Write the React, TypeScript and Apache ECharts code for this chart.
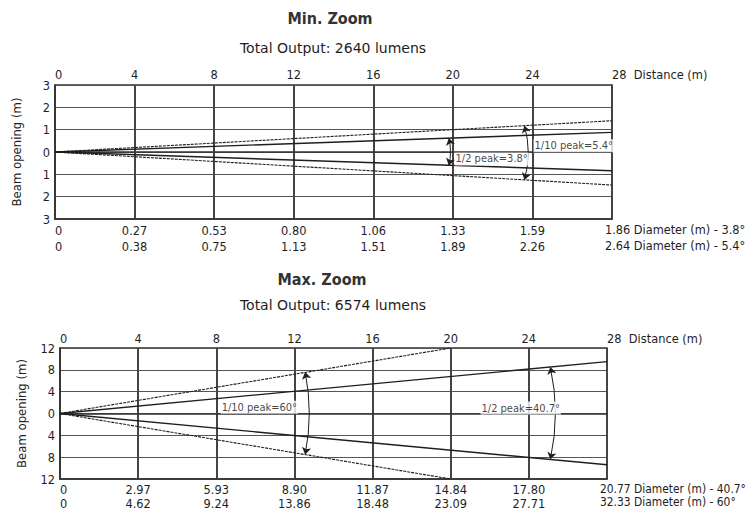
import React, { useEffect, useRef } from "react";
import * as echarts from "echarts";

// ---- data ----
const distances = [0, 4, 8, 12, 16, 20, 24, 28];
const minHalfDiam = [0, 0.27, 0.53, 0.8, 1.06, 1.33, 1.59, 1.86];
const minTenthDiam = [0, 0.38, 0.75, 1.13, 1.51, 1.89, 2.26, 2.64];
const maxHalfDiam = [0, 2.97, 5.93, 8.9, 11.87, 14.84, 17.8, 20.77];
const maxTenthDiam = [0, 4.62, 9.24, 13.86, 18.48, 23.09, 27.71, 32.33];

// beam edges as drawn (distance, half opening)
const minEdgeX = [0, 28];
const minHalfUpper = [0, 0.88];
const minHalfLower = [0, -0.84];
const minTenthUpper = [0, 1.4];
const minTenthLower = [0, -1.48];
const maxHalfX = [0, 28];
const maxHalfUpper = [0, 9.5];
const maxHalfLower = [0, -9.4];
const maxTenthX = [0, 20];
const maxTenthUpper = [0, 12];
const maxTenthLower = [0, -12];

const FONT = "'DejaVu Sans Condensed', 'DejaVu Sans', sans-serif";
const WIDE = "'DejaVu Sans', sans-serif";
const INK = "#1e1e1e";
const TICK_SIZE = 12.7;

const fmt = (n: number) => (n === 0 ? "0" : n.toFixed(2));
const zip = (xs: number[], ys: number[]) => xs.map((x, i) => [x, ys[i]]);
const last = distances.length - 1;

function diamFormatter(a: number[], b: number[]) {
  return (v: number) => {
    const i = distances.indexOf(v);
    if (i < 0 || i === last) return "";
    return `${fmt(a[i])}\n${fmt(b[i])}`;
  };
}

function edge(xIdx: number, yIdx: number, data: number[][], dashed: boolean) {
  return {
    type: "line",
    xAxisIndex: xIdx,
    yAxisIndex: yIdx,
    data,
    symbol: "none",
    silent: true,
    z: 5,
    lineStyle: { color: INK, width: dashed ? 1.1 : 1.4, type: dashed ? [3, 1] : "solid" },
  };
}

function arcs(xIdx: number, yIdx: number, items: { x: number; y1: number; y2: number; c: number }[]) {
  return {
    type: "lines",
    coordinateSystem: "cartesian2d",
    xAxisIndex: xIdx,
    yAxisIndex: yIdx,
    silent: true,
    z: 6,
    symbol: ["arrow", "arrow"],
    symbolSize: 7,
    lineStyle: { color: INK, width: 1, opacity: 1 },
    data: items.map((it) => ({
      coords: [
        [it.x, it.y1],
        [it.x, it.y2],
      ],
      lineStyle: { curveness: it.c },
    })),
  };
}

function labels(xIdx: number, yIdx: number, items: { name: string; x: number; y: number }[]) {
  return {
    type: "scatter",
    xAxisIndex: xIdx,
    yAxisIndex: yIdx,
    silent: true,
    z: 20,
    symbolSize: 1,
    itemStyle: { color: "transparent" },
    label: {
      show: true,
      position: "right",
      distance: 0,
      formatter: (p: any) => p.name,
      color: "#111",
      fontSize: 11,
      fontFamily: FONT,
      backgroundColor: "#fff",
      padding: [1, 1],
    },
    data: items.map((it) => ({ name: it.name, value: [it.x, it.y] })),
  };
}

function distAxis(grid: number, margin: number) {
  return {
    type: "value",
    gridIndex: grid,
    position: "top",
    min: 0,
    max: 28,
    interval: 4,
    axisLine: { show: true, lineStyle: { color: "#333", width: 1.5 } },
    axisTick: { show: false },
    splitLine: { show: true, lineStyle: { color: "#444", width: 2 } },
    axisLabel: {
      margin,
      color: INK,
      fontSize: TICK_SIZE,
      fontFamily: FONT,
      alignMinLabel: "left",
      alignMaxLabel: "left",
      formatter: (v: number) => (v === 28 ? "28  Distance (m)" : String(v)),
    },
  };
}

function diamAxis(grid: number, fmtr: any, lh: number, margin: number) {
  return {
    type: "value",
    gridIndex: grid,
    position: "bottom",
    min: 0,
    max: 28,
    interval: 4,
    axisLine: { show: true, lineStyle: { color: "#333", width: 1.5 } },
    axisTick: { show: false },
    splitLine: { show: false },
    axisLabel: {
      margin,
      color: INK,
      fontSize: TICK_SIZE,
      lineHeight: lh,
      fontFamily: FONT,
      alignMinLabel: "left",
      formatter: fmtr,
    },
  };
}

function openAxis(grid: number, lim: number, step: number) {
  return {
    type: "value",
    gridIndex: grid,
    min: -lim,
    max: lim,
    interval: step,
    name: "Beam opening (m)",
    nameLocation: "middle",
    nameRotate: 90,
    nameGap: 32,
    nameTextStyle: { color: INK, fontSize: 13, fontFamily: FONT },
    axisLine: { show: true, lineStyle: { color: "#333", width: 1.5 } },
    axisTick: { show: false },
    splitLine: { show: true, lineStyle: { color: "#555", width: 1 } },
    axisLabel: {
      margin: 5,
      color: INK,
      fontSize: TICK_SIZE,
      fontFamily: FONT,
      formatter: (v: number) => String(Math.abs(v)),
    },
  };
}

function title(text: string, x: number, y: number, size: number, bold: boolean) {
  return {
    type: "text",
    x,
    y,
    silent: true,
    style: {
      text,
      align: "center",
      verticalAlign: "middle",
      textAlign: "center",
      textVerticalAlign: "middle",
      fill: bold ? "#333" : INK,
      font: bold ? `bold ${size}px ${FONT}` : `${size}px ${WIDE}`,
    },
  };
}

function endLabel(a: number[], b: number[], angA: string, angB: string, x: number, y: number, lh: number, size: number) {
  return {
    type: "text",
    x,
    y,
    silent: true,
    style: {
      text: `${fmt(a[last])} Diameter (m) - ${angA}\n${fmt(b[last])} Diameter (m) - ${angB}`,
      align: "left",
      verticalAlign: "top",
      textAlign: "left",
      textVerticalAlign: "top",
      lineHeight: lh,
      fill: INK,
      font: `${size}px ${FONT}`,
    },
  };
}

const gridBase = {
  show: true,
  borderColor: "#333",
  borderWidth: 1.5,
  backgroundColor: "transparent",
  containLabel: false,
  outerBoundsMode: "none",
};

export default function App() {
  const ref = useRef<HTMLDivElement>(null);
  useEffect(() => {
    if (!ref.current) return;
    const chart = echarts.init(ref.current, undefined, { renderer: "svg" });
    chart.setOption({
      animation: false,
      backgroundColor: "#fff",
      graphic: [
        title("Min. Zoom", 330, 18, 16, true),
        title("Total Output: 2640 lumens", 333, 48, 14, false),
        title("Max. Zoom", 322, 279, 16, true),
        title("Total Output: 6574 lumens", 333, 305, 14, false),
        endLabel(minHalfDiam, minTenthDiam, "3.8°", "5.4°", 605, 221, 16, 12.6),
        endLabel(maxHalfDiam, maxTenthDiam, "40.7°", "60°", 600, 482, 13, 11.9),
      ],
      grid: [
        { ...gridBase, left: 55, top: 85, width: 557, height: 134 },
        { ...gridBase, left: 60, top: 348, width: 547, height: 131 },
      ],
      xAxis: [
        distAxis(0, 4),
        diamAxis(0, diamFormatter(minHalfDiam, minTenthDiam), 16, 3),
        distAxis(1, 3),
        diamAxis(1, diamFormatter(maxHalfDiam, maxTenthDiam), 14, 3),
      ],
      yAxis: [openAxis(0, 3, 1), openAxis(1, 12, 4)],
      series: [
        edge(0, 0, zip(minEdgeX, minHalfUpper), false),
        edge(0, 0, zip(minEdgeX, minHalfLower), false),
        edge(0, 0, zip(minEdgeX, minTenthUpper), true),
        edge(0, 0, zip(minEdgeX, minTenthLower), true),
        arcs(0, 0, [
          { x: 19.8, y1: 0.62, y2: -0.6, c: 0.12 },
          { x: 23.6, y1: 1.18, y2: -1.25, c: 0.14 },
        ]),
        labels(0, 0, [
          { name: "1/2 peak=3.8°", x: 20.06, y: -0.31 },
          { name: "1/10 peak=5.4°", x: 24.03, y: 0.28 },
        ]),
        edge(2, 1, zip(maxHalfX, maxHalfUpper), false),
        edge(2, 1, zip(maxHalfX, maxHalfLower), false),
        edge(2, 1, zip(maxTenthX, maxTenthUpper), true),
        edge(2, 1, zip(maxTenthX, maxTenthLower), true),
        arcs(2, 1, [
          { x: 12.55, y1: 7.6, y2: -7.5, c: 0.1 },
          { x: 25.1, y1: 8.5, y2: -8.4, c: 0.11 },
        ]),
        labels(2, 1, [
          { name: "1/10 peak=60°", x: 8.2, y: 1.15 },
          { name: "1/2 peak=40.7°", x: 21.5, y: 1.0 },
        ]),
      ],
    });
    return () => chart.dispose();
  }, []);
  return (
    <div
      ref={ref}
      style={{ position: "fixed", left: 0, top: 0, width: 749, height: 510, background: "#fff" }}
    />
  );
}
